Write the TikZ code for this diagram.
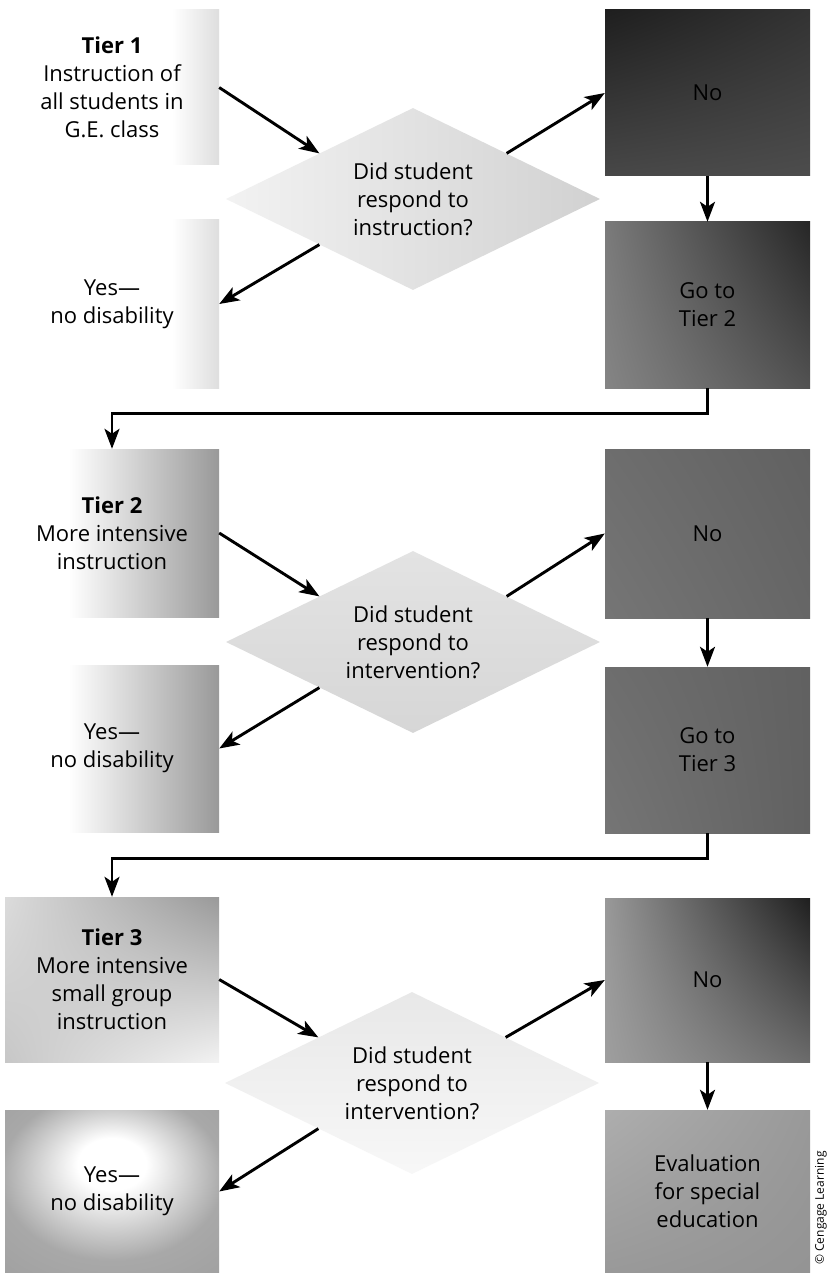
\documentclass[tikz,border=0pt]{standalone}
\usepackage{fontspec}
\setmainfont{Open Sans}
\usetikzlibrary{shapes.geometric,arrows.meta,calc,shadings}
\pgfdeclarehorizontalshading{fadeA}{100bp}{color(0bp)=(white); color(64bp)=(white); color(75bp)=(black!13); color(100bp)=(black!13)}
\pgfdeclarehorizontalshading{fadeB}{100bp}{color(0bp)=(white); color(40bp)=(white); color(75bp)=(black!40); color(100bp)=(black!40)}
\pgfdeclareradialshading{yesthree}{\pgfpoint{0bp}{10bp}}{color(0bp)=(white); color(8bp)=(white); color(26bp)=(black!34); color(50bp)=(black!40)}
\begin{document}
\begin{tikzpicture}[x=1pt,y=-1pt,
  txt/.style={font=\fontsize{22}{28}\selectfont, align=center, text=black},
  lbox/.style={txt, inner sep=0pt, minimum width=214pt},
  rbox/.style={txt, inner sep=0pt, minimum width=205pt},
  dia/.style={txt, diamond, aspect=2, inner sep=0pt, minimum width=374pt, minimum height=182pt},
  arr/.style={line width=2.9pt, -{Stealth[length=20pt,width=15pt,inset=5pt]}}]
\useasboundingbox (0,0) rectangle (828,1273);
\fill[white] (0,0) rectangle (828,1273);

% left column
\node[lbox, shading=fadeA, minimum height=155pt] (t1) at (112,87.5)
  {\textbf{Tier 1}\\Instruction of\\all students in\\G.E. class};
\node[lbox, shading=fadeA, minimum height=168pt] (y1) at (112,304)
  {Yes---\\no disability};
\node[lbox, shading=fadeB, minimum height=168pt] (t2) at (112,533)
  {\textbf{Tier 2}\\More intensive\\instruction};
\node[lbox, shading=fadeB, minimum height=167pt] (y2) at (112,748.5)
  {Yes---\\no disability};
\node[lbox, upper left=black!14, upper right=black!40, lower left=black!22, lower right=black!5, minimum height=165pt] (t3) at (112,979.5)
  {\textbf{Tier 3}\\More intensive\\small group\\instruction};
\node[lbox, shading=yesthree, minimum height=163pt] (y3) at (112,1191.5)
  {Yes---\\no disability};

% right column
\node[rbox, upper left=black!88, upper right=black!80, lower left=black!72, lower right=black!70, minimum height=166pt] (n1) at (707.5,93)
  {No};
\node[rbox, upper left=black!52, upper right=black!85, lower left=black!48, lower right=black!68, minimum height=166pt] (g2) at (707.5,305)
  {Go to\\Tier 2};
\node[rbox, upper left=black!57, upper right=black!62, lower left=black!54, lower right=black!60, minimum height=169pt] (n2) at (707.5,533.5)
  {No};
\node[rbox, upper left=black!57, upper right=black!62, lower left=black!54, lower right=black!62, minimum height=166pt] (g3) at (707.5,750)
  {Go to\\Tier 3};
\node[rbox, upper left=black!40, upper right=black!88, lower left=black!38, lower right=black!58, minimum height=164pt] (n3) at (707.5,980)
  {No};
\node[rbox, upper left=black!32, upper right=black!40, lower left=black!40, lower right=black!42, minimum height=163pt] (ev) at (707.5,1191.5)
  {Evaluation\\for special\\education};

% decisions
\node[dia, left color=black!5, right color=black!18] (d1) at (413,199)
  {Did student\\respond to\\instruction?};
\node[dia, top color=black!11, bottom color=black!16] (d2) at (413,642)
  {Did student\\respond to\\intervention?};
\node[dia, top color=black!9, bottom color=black!3] (d3) at (412,1083)
  {Did student\\respond to\\intervention?};

% connectors
\draw[arr] (t1.east) -- (d1.north west);
\draw[arr] (d1.south west) -- (y1.east);
\draw[arr] (d1.north east) -- (n1.west);
\draw[arr] (n1.south) -- (g2.north);
\draw[arr] (g2.south) -- ++(0,25) -| (t2.north);

\draw[arr] (t2.east) -- (d2.north west);
\draw[arr] (d2.south west) -- (y2.east);
\draw[arr] (d2.north east) -- (n2.west);
\draw[arr] (n2.south) -- (g3.north);
\draw[arr] (g3.south) -- ++(0,25) -| (t3.north);

\draw[arr] (t3.east) -- (d3.north west);
\draw[arr] (d3.south west) -- (y3.east);
\draw[arr] (d3.north east) -- (n3.west);
\draw[arr] (n3.south) -- (ev.north);

\node[font=\fontsize{12}{14}\selectfont, rotate=90, inner sep=0pt] (cr) at (821,1208) {\copyright\ Cengage Learning};
\end{tikzpicture}
\end{document}
